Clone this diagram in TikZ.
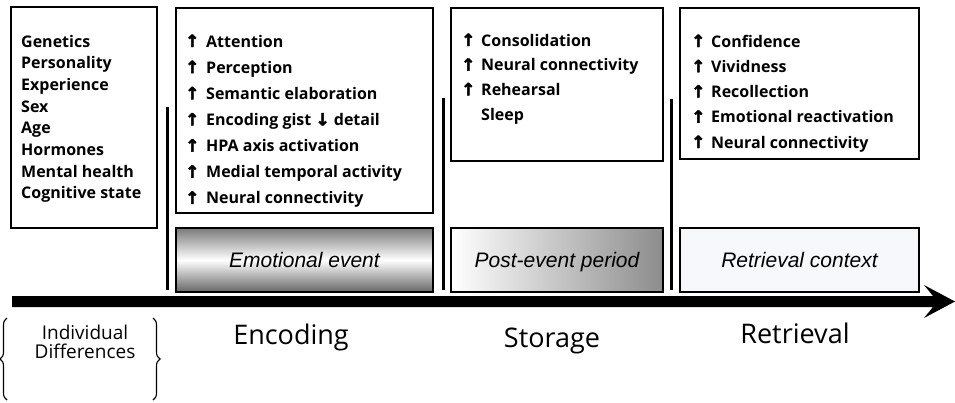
\documentclass[tikz,border=0pt]{standalone}
\usepackage{fontspec}
\setmainfont{Open Sans}
\newfontfamily\arialfont{Liberation Sans}
\newfontfamily\symfont[BoldFeatures={FakeBold=2.5}]{DejaVu Sans}
\usetikzlibrary{decorations.pathreplacing}
\newcommand\upar{{\symfont\bfseries ↑}}
\newcommand\dnar{{\symfont\fontsize{17}{17}\selectfont\bfseries ↓}}
\definecolor{retfill}{HTML}{F6F8FC}
\begin{document}
\begin{tikzpicture}[x=1pt,y=-1pt,
  box/.style={draw,line width=1.8pt,inner sep=0},
  item/.style={anchor=base west,inner sep=0,font=\fontsize{16}{17}\selectfont\bfseries},
  arrowglyph/.style={anchor=base west,inner sep=0,font=\fontsize{17}{17}\selectfont},
  ital/.style={font=\arialfont\fontsize{21}{24}\selectfont\itshape,inner sep=0,anchor=base},
  stage/.style={font=\fontsize{27}{30}\selectfont,anchor=base,inner sep=0},
  sep/.style={line width=3pt},
  brc/.style={decorate,decoration={brace,amplitude=7pt},line width=1.1pt}]
\useasboundingbox (0,0) rectangle (955,402);

% top boxes
\node[box,minimum width=146,minimum height=221] (ind) at (84,117.5) {};
\node[box,minimum width=257,minimum height=205] (enc) at (304.5,110.5) {};
\node[box,minimum width=212,minimum height=153] (sto) at (557,84.5) {};
\node[box,minimum width=239,minimum height=151] (ret) at (799.5,83.5) {};

% context boxes
\node[box,line width=1.4pt,minimum width=257,minimum height=64,
      top color=black!52,bottom color=black!60,middle color=white] (emo) at (304.5,260) {};
\node[ital] (emot) at (304.5,267) {Emotional event};
\node[box,line width=1.4pt,minimum width=212,minimum height=64,
      left color=white,right color=black!45] (post) at (557,260) {};
\node[ital] (postt) at (557,267) {Post-event period};
\node[box,line width=1.4pt,minimum width=239,minimum height=64,fill=retfill] (rctx) at (799.5,260) {};
\node[ital] (rctxt) at (799.5,267) {Retrieval context};

% individual differences list
\foreach \t [count=\i] in {Genetics,Personality,Experience,Sex,Age,Hormones,Mental health,Cognitive state}
  \node[item] (ind-\i) at (21,{47+21.7*(\i-1)}) {\t};

% encoding list
\foreach \t [count=\i] in {Attention,Perception,Semantic elaboration,Encoding gist \dnar\ detail,HPA axis activation,Medial temporal activity,Neural connectivity}{
  \node[arrowglyph] (enca-\i) at (185,{47+26.15*(\i-1)}) {\upar};
  \node[item] (enc-\i) at (206,{47+26.15*(\i-1)}) {\t};
}

% storage list
\foreach \t [count=\i] in {Consolidation,Neural connectivity,Rehearsal}{
  \node[arrowglyph] (stoa-\i) at (461,{46+24.7*(\i-1)}) {\upar};
  \node[item] (sto-\i) at (481,{46+24.7*(\i-1)}) {\t};
}
\node[item] (sto-4) at (481,{46+24.7*3}) {Sleep};

% retrieval list
\foreach \t [count=\i] in {Confidence,Vividness,Recollection,Emotional reactivation,Neural connectivity}{
  \node[arrowglyph] (reta-\i) at (691,{47+25.25*(\i-1)}) {\upar};
  \node[item] (ret-\i) at (711,{47+25.25*(\i-1)}) {\t};
}

% separators
\coordinate (s1a) at (167,107); \coordinate (s1b) at (167,290);
\coordinate (s2a) at (443,98);  \coordinate (s2b) at (443,290);
\coordinate (s3a) at (671,99);  \coordinate (s3b) at (671,290);
\draw[sep] (s1a) -- (s1b);
\draw[sep] (s2a) -- (s2b);
\draw[sep] (s3a) -- (s3b);

% time arrow
\fill (12,296) -- (933,296) -- (924,285) -- (955,301.5) -- (924,318) -- (933,307) -- (12,307) -- cycle;

% stage labels
\node[stage] (encl) at (291,344) {Encoding};
\node[stage] (stol) at (552,347) {Storage};
\node[stage] (retl) at (795,343) {Retrieval};

% individual differences
\node[font=\fontsize{19}{19}\selectfont,align=center,inner sep=0] (idl) at (85,342) {Individual\\Differences};
\draw[brc] (7,400) -- (7,318);
\draw[brc] (153,318) -- (153,400);
\end{tikzpicture}
\end{document}
